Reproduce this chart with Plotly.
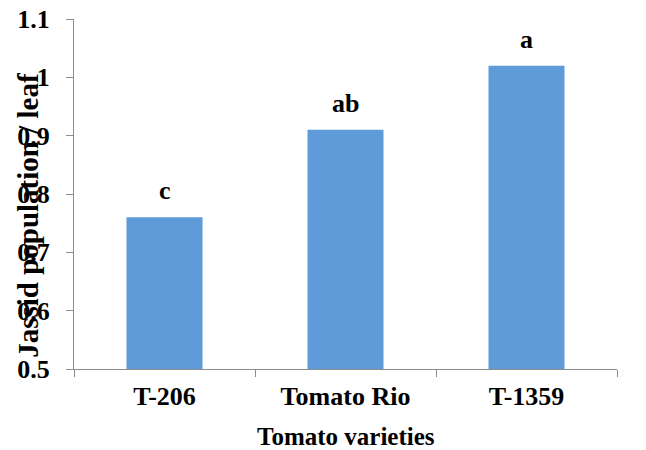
import plotly.graph_objects as go

categories = ["T-206", "Tomato Rio", "T-1359"]
values = [0.76, 0.91, 1.02]
letters = ["c", "ab", "a"]
tick_vals = [0.5, 0.6, 0.7, 0.8, 0.9, 1.0, 1.1]
tick_text = ["0.5", "0.6", "0.7", "0.8", "0.9", "1", "1.1"]

FONT = "Liberation Serif"
fig = go.Figure()
fig.add_trace(go.Bar(
    x=categories, y=values, width=0.42,
    marker=dict(color="#5E9BD8", line=dict(width=0)),
    showlegend=False, hoverinfo="skip",
))

for c, v, t in zip(categories, values, letters):
    fig.add_annotation(x=c, y=v, text="<b>%s</b>" % t, showarrow=False,
                       yanchor="bottom", yshift=10,
                       font=dict(family=FONT, size=26, color="black"))

fig.add_annotation(xref="paper", yref="paper", x=-0.085, y=0.44,
                   text="<b>Jassid population / leaf</b>", textangle=-90,
                   showarrow=False, xanchor="center", yanchor="middle",
                   font=dict(family=FONT, size=29, color="black"))

fig.add_annotation(xref="paper", yref="paper", x=0.5, y=-0.193,
                   text="<b>Tomato varieties</b>", showarrow=False,
                   xanchor="center", yanchor="middle",
                   font=dict(family=FONT, size=25, color="black"))

fig.update_layout(
    width=638, height=442,
    margin=dict(l=66, r=29, t=11, b=81),
    paper_bgcolor="white", plot_bgcolor="white",
    font=dict(family=FONT, size=26, color="black"),
    bargap=0.58,
)
fig.update_xaxes(
    type="category", tickson="boundaries", ticks="outside", ticklen=7,
    tickcolor="#8C8C8C", showline=True, linecolor="#8C8C8C", linewidth=1,
    showgrid=False, tickfont=dict(family=FONT, size=26, color="black"),
    ticklabelstandoff=4, automargin=False,
    tickprefix="<b>", ticksuffix="</b>",
)
fig.update_yaxes(
    range=[0.5, 1.1], tickvals=tick_vals, ticktext=["<b>%s</b>" % s for s in tick_text],
    ticks="outside", ticklen=7, tickcolor="#8C8C8C", showline=True,
    linecolor="#8C8C8C", linewidth=1, showgrid=False, zeroline=False,
    tickfont=dict(family=FONT, size=26, color="black"), ticklabelstandoff=11,
    automargin=False, ticklabeloverflow="allow",
)

fig.write_html("out.html")
